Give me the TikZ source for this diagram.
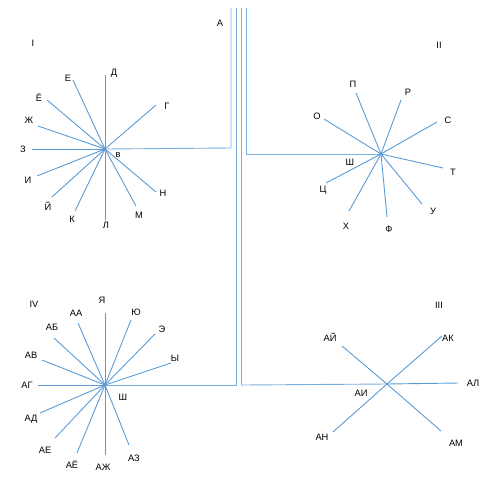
\documentclass[tikz,border=0pt]{standalone}
\usepackage{fontspec}
\setmainfont{Liberation Sans}
\definecolor{ln}{RGB}{91,155,213}
\begin{document}
\begin{tikzpicture}[x=1pt,y=-1pt,
  ray/.style={draw=ln,line width=0.9pt},
  bus/.style={draw=ln!80,line width=0.9pt},
  lab/.style={font=\fontsize{9.3}{10}\selectfont,inner sep=0pt,anchor=center}]
\useasboundingbox (0,0) rectangle (498,491);
% centres
\coordinate (cI) at (105,149);
\coordinate (cII) at (381,154);
\coordinate (cIII) at (387,384);
\coordinate (cIV) at (105,385);
% bus lines
\coordinate (t1) at (231,8); \coordinate (k1) at (231,148);
\coordinate (t2) at (236.5,8); \coordinate (k2) at (236.5,385);
\coordinate (t3) at (241.5,8); \coordinate (k3) at (241.5,385);
\coordinate (t4) at (246,8); \coordinate (k4) at (246,154);
\draw[bus] (t1) -- (k1) -- (cI);
\draw[bus] (t4) -- (k4) -- (cII);
\draw[bus] (t2) -- (k2) -- (cIV);
\draw[bus] (t3) -- (k3) -- (cIII);
% group I
\foreach \n/\p in {d/{105,75},g/{156,105},e/{73,80},yo/{47,100},zh/{38,126},z/{32,149},i/{37,176},j/{52,197},k/{75,211},l/{105,220},m/{136,206},nn/{156,192}}
  {\coordinate (I\n) at (\p); \draw[ray] (cI) -- (I\n);}
% group II
\foreach \n/\p in {p/{356,93},r/{401,100},s/{437,122},o/{324,119},t/{443,168},u/{422,204},f/{387,217},h/{349,211},c/{326,183}}
  {\coordinate (II\n) at (\p); \draw[ray] (cII) -- (II\n);}
% group IV
\foreach \n/\p in {ya/{105,313},yu/{131,320},ee/{155,334},y/{171,363},aa/{78,323},ab/{54,338},av/{42,360},ag/{38,385},ad/{40,413},ae/{55,438},ayo/{77,453},azh/{105,455},az/{129,445}}
  {\coordinate (IV\n) at (\p); \draw[ray] (cIV) -- (IV\n);}
% group III
\foreach \n/\p in {aj/{342,346},ak/{442,336},al/{458,383},am/{441,431},an/{333,432}}
  {\coordinate (III\n) at (\p); \draw[ray] (cIII) -- (III\n);}
% labels
\node[lab] (LA) at (220,23) {А};
\node[lab] (L1) at (33,43) {I};
\node[lab] (L2) at (439,45) {II};
\node[lab] (L3) at (439,305) {III};
\node[lab] (L4) at (34,304) {IV};
% I labels
\node[lab] (lv) at (118,155) {в};
\node[lab] (ld) at (114,73) {Д};
\node[lab] (lg) at (167,106) {Г};
\node[lab] (le) at (68,78) {Е};
\node[lab] (lyo) at (39,98) {Ё};
\node[lab] (lzh) at (29,120) {Ж};
\node[lab] (lz) at (23,149) {З};
\node[lab] (li) at (28,180) {И};
\node[lab] (lj) at (48,206) {Й};
\node[lab] (lk) at (72,219) {К};
\node[lab] (ll) at (106,225) {Л};
\node[lab] (lm) at (139,215) {М};
\node[lab] (lnn) at (163,193) {Н};
% II labels
\node[lab] (lp) at (353,84) {П};
\node[lab] (lr) at (408,92) {Р};
\node[lab] (ls) at (448,120) {С};
\node[lab] (lo) at (317,116) {О};
\node[lab] (lt) at (453,172) {Т};
\node[lab] (lu) at (433,211) {У};
\node[lab] (lf) at (389,229) {Ф};
\node[lab] (lh) at (346,226) {Х};
\node[lab] (lc) at (323,190) {Ц};
\node[lab] (lsh) at (350,162) {Ш};
% IV labels
\node[lab] (lya) at (102,300) {Я};
\node[lab] (lyu) at (136,312) {Ю};
\node[lab] (lee) at (162,329) {Э};
\node[lab] (ly) at (175,358) {Ы};
\node[lab] (laa) at (76,313) {АА};
\node[lab] (lab) at (52,327) {АБ};
\node[lab] (lav) at (31,355) {АВ};
\node[lab] (lag) at (27,385) {АГ};
\node[lab] (lad) at (31,419) {АД};
\node[lab] (lae) at (45,450) {АЕ};
\node[lab] (layo) at (72,465) {АЁ};
\node[lab] (lazh) at (103,467) {АЖ};
\node[lab] (laz) at (134,458) {АЗ};
\node[lab] (lsh4) at (123,397) {Ш};
% III labels
\node[lab] (laj) at (330,337) {АЙ};
\node[lab] (lak) at (448,338) {АК};
\node[lab] (lal) at (473,383) {АЛ};
\node[lab] (lam) at (456,443) {АМ};
\node[lab] (lan) at (322,437) {АН};
\node[lab] (lai) at (361,393) {АИ};
\end{tikzpicture}
\end{document}
